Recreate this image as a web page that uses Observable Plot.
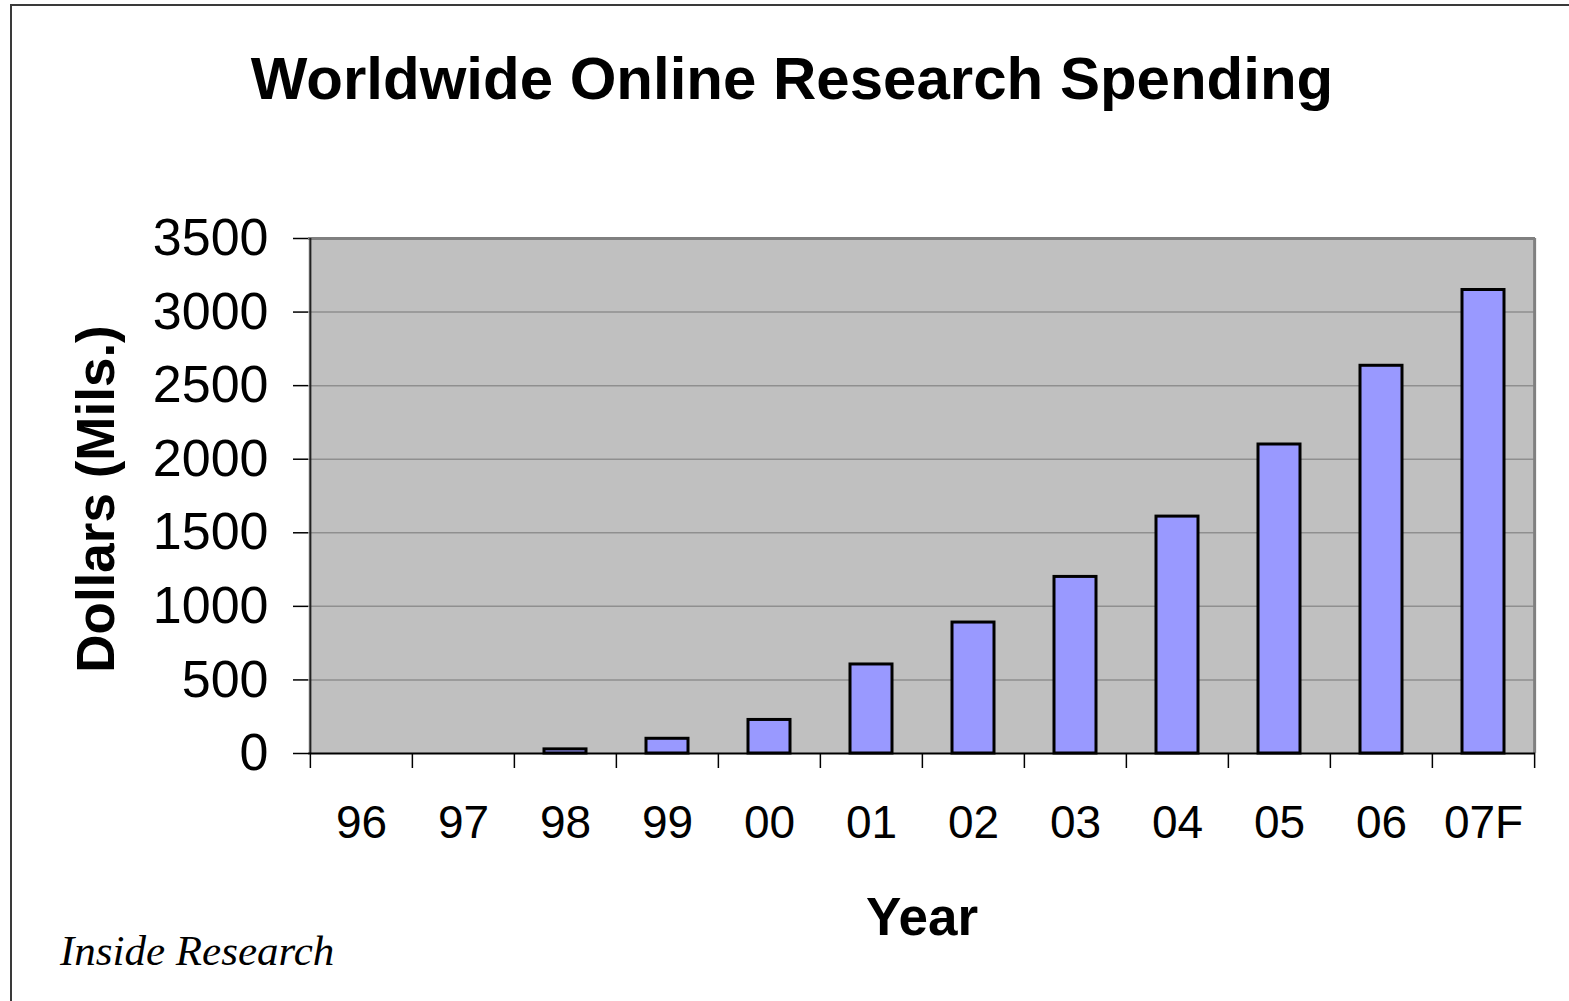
<!DOCTYPE html>
<html>
<head>
<meta charset="utf-8">
<script src="https://cdn.jsdelivr.net/npm/d3@7"></script>
<script src="https://cdn.jsdelivr.net/npm/@observablehq/plot@0.6"></script>
<style>
  html, body { margin: 0; padding: 0; background: #fff; }
  #page { position: relative; width: 1569px; height: 1001px; overflow: hidden; background: #fff; }
  #border { position: absolute; left: 10px; top: 4px; width: 1700px; height: 1100px;
            border-left: 2px solid #3a3a3a; border-top: 2px solid #3a3a3a; }
  #chart { position: absolute; left: 0; top: 0; }
  #title { position: absolute; left: 0; width: 1584px; top: 49px; text-align: center;
           font: bold 60px/60px "Liberation Sans", Arial, sans-serif; color: #000; white-space: nowrap; }
  #caption { position: absolute; left: 60px; top: 929px;
             font: italic 43px/43px "Liberation Serif", "Times New Roman", serif; color: #000; white-space: nowrap; }
</style>
</head>
<body>
<div id="page">
  <div id="border"></div>
  <div id="chart"></div>
  <div id="title">Worldwide Online Research Spending</div>
  <div id="caption">Inside Research</div>
</div>
<script>
// Year categories (two-digit years, 07 is a forecast)
const years = ["96", "97", "98", "99", "00", "01", "02", "03", "04", "05", "06", "07F"];
// Spending in millions of dollars (no bars for 96 and 97)
const spending = [null, null, 28, 100, 228, 605, 890, 1200, 1610, 2100, 2635, 3150];
// Y axis ticks
const yTicks = [0, 500, 1000, 1500, 2000, 2500, 3000, 3500];
const gridTicks = [500, 1000, 1500, 2000, 2500, 3000];

const data = years.map((year, i) => ({year, value: spending[i]}));

const W = 1569, H = 1001;
const mL = 308, mR = 34, mT = 238, mB = 248;
const step = (W - mL - mR) / years.length;
const plotH = H - mT - mB;

const font = "'Liberation Sans', Arial, sans-serif";

const chart = Plot.plot({
  width: W,
  height: H,
  marginLeft: mL,
  marginRight: mR,
  marginTop: mT,
  marginBottom: mB,
  style: {fontFamily: font, background: "transparent", color: "#000"},
  x: {domain: years, padding: 0, label: null},
  y: {domain: [0, 3500], label: null},
  marks: [
    Plot.frame({fill: "#c0c0c0", stroke: "none"}),
    Plot.ruleY(gridTicks, {stroke: "#8f8f8f", strokeWidth: 1.5}),
    // gray top and right edges of the plot area
    Plot.ruleY([3500], {stroke: "#808080", strokeWidth: 3}),
    Plot.ruleX([years[years.length - 1]], {stroke: "#808080", strokeWidth: 3, dx: step / 2}),
    Plot.barY(data, {
      x: "year", y: "value",
      fill: "#9999ff", stroke: "#000", strokeWidth: 3,
      insetLeft: 30, insetRight: 30
    }),
    // category separators below the baseline
    Plot.ruleX(years, {stroke: "#000", strokeWidth: 1.5, dx: -step / 2, insetTop: plotH, insetBottom: -15}),
    Plot.ruleX([years[years.length - 1]], {stroke: "#000", strokeWidth: 1.5, dx: step / 2, insetTop: plotH, insetBottom: -15}),
    Plot.axisY({
      ticks: yTicks, tickFormat: d3.format("d"), tickSize: 15, tickPadding: 25,
      fontSize: 52, stroke: "#000", strokeWidth: 1.5, label: null
    }),
    Plot.axisX({tickSize: 0, tickPadding: 52, fontSize: 46, label: null}),
    Plot.ruleX([years[0]], {stroke: "#222", strokeWidth: 2, dx: -step / 2}),
    Plot.ruleY([0], {stroke: "#000", strokeWidth: 2}),
    Plot.text(["Dollars (Mils.)"], {
      text: d => d, frameAnchor: "left", rotate: -90, textAnchor: "middle", lineAnchor: "bottom",
      dx: -195, dy: 3, fontSize: 53, fontWeight: "bold", fill: "#000"
    }),
    Plot.text(["Year"], {
      text: d => d, frameAnchor: "bottom", textAnchor: "middle", lineAnchor: "bottom",
      dx: 0, dy: 181, fontSize: 53, fontWeight: "bold", fill: "#000", letterSpacing: "2px"
    })
  ]
});

document.getElementById("chart").appendChild(chart);
</script>
</body>
</html>
